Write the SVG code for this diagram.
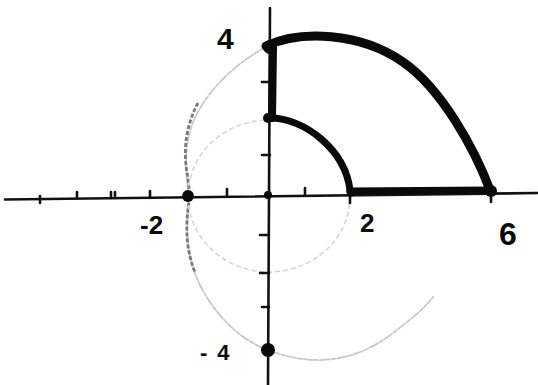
<svg xmlns="http://www.w3.org/2000/svg" width="538" height="385" viewBox="0 0 538 385">
  <style>
    .axis { stroke: #111; stroke-width: 2.6; fill: none; stroke-linecap: round; }
    .tick { stroke: #111; stroke-width: 2.6; fill: none; stroke-linecap: round; }
    .thick { stroke: #0a0a0a; fill: none; stroke-linecap: round; stroke-linejoin: round; }
    .faint { stroke: #c8c8c8; stroke-width: 1.8; fill: none; stroke-linecap: round; stroke-dasharray: 9 2 4 2; }
    .faint2 { stroke: #d4d4d4; stroke-width: 1.5; fill: none; stroke-dasharray: 5 3; }
    .dark { stroke: #7a7a7a; stroke-width: 2.8; fill: none; stroke-dasharray: 4 2; }
    .dot { fill: #0a0a0a; }
    .lbl { font-family: "Liberation Sans", Arial, sans-serif; font-weight: bold; fill: #0a0a0a; }
  </style>
  <rect width="538" height="385" fill="#ffffff"/>

  <g id="faint-curves">
    <path class="faint" d="M268,46 C240,60 205,90 192,125 C183,150 186,175 189,195 C186,225 185,255 200,285 C215,315 240,340 268,350 C300,362 345,370 393,333 C410,320 425,308 433,297"/>
    <path class="dark" d="M198,103 C186,125 183,150 187,172 L190,195 C186,220 184,245 195,272"/>
    <ellipse class="faint2" cx="269" cy="196" rx="81" ry="76"/>
  </g>

  <g id="axes">
    <path class="axis" d="M5,199.5 L538,193"/>
    <path class="axis" d="M270,8 L268,385"/>
    <path class="tick" d="M40,196 L40,203 M77,192 L77,198 M111,192 L111,198 M115,192 L115,198 M150,191 L150,198 M227,189 L227,196 M305,188 L305,195 M350,193 L350,203 M491,193 L491,202"/>
    <path class="tick" d="M262,82 L270,82 M262,155 L270,155 M260,235 L269,235 M260,273 L269,273 M262,307 L269,307"/>
  </g>

  <g id="connectors">
    <path class="thick" stroke-width="9" d="M266,46 C300,30 360,32 403,62 C442,89 475,150 490,190"/>
    <path class="thick" stroke-width="8" d="M273,47 L272,118"/>
    <path class="thick" stroke-width="7" d="M270,118 C305,118 345,150 350,190"/>
    <path class="thick" stroke-width="7" d="M350,191 L490,190"/>
  </g>

  <g id="points">
    <circle class="dot" cx="270" cy="47" r="7"/>
    <circle class="dot" cx="268" cy="118" r="5"/>
    <circle class="dot" cx="188" cy="196" r="6"/>
    <circle class="dot" cx="268" cy="195" r="4"/>
    <circle class="dot" cx="268" cy="350" r="7"/>
    <circle class="dot" cx="351" cy="192" r="4.5"/>
    <circle class="dot" cx="491" cy="191" r="6"/>
  </g>

  <g id="labels">
    <text class="lbl" x="217" y="49" font-size="30">4</text>
    <text class="lbl" x="140" y="234" font-size="26">-2</text>
    <text class="lbl" x="360" y="232" font-size="26">2</text>
    <text class="lbl" x="499" y="245" font-size="32">6</text>
    <text class="lbl" x="200" y="360" font-size="22">-<tspan dx="10">4</tspan></text>
  </g>
</svg>
